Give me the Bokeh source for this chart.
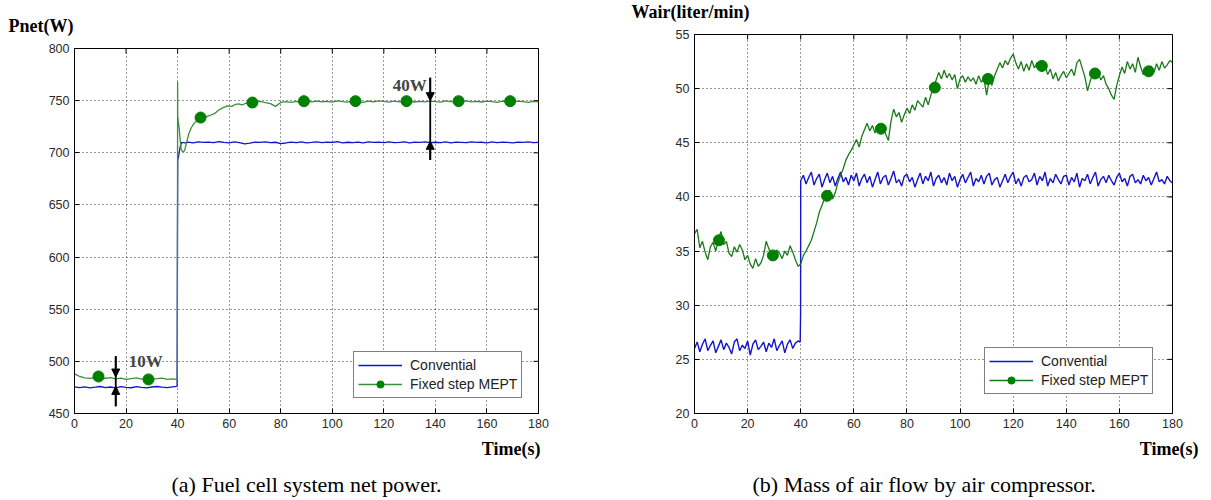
from bokeh.plotting import figure
from bokeh.layouts import row
from bokeh.models import (Range1d, FixedTicker, Label, Legend, Title,
                          LegendItem, Arrow, NormalHead)
from bokeh.embed import file_html
from bokeh.resources import INLINE

# ---------------- data: (a) net power ----------------
x_ticks = [0, 20, 40, 60, 80, 100, 120, 140, 160, 180]
pnet_ticks = [450, 500, 550, 600, 650, 700, 750, 800]
wair_ticks = [20, 25, 30, 35, 40, 45, 50, 55]

pnet_conv_t = list(range(0, 40, 2)) + [39.8, 39.9, 39.95, 40.05, 40.4, 41.0, 41.6, 43.0] + list(range(44, 181, 2))
pnet_conv = [475.5, 474.8, 475.6, 474.6, 475.2, 475.9, 474.9, 475.4, 474.5, 475.7,
             475.1, 474.7, 475.8, 475.0, 474.6, 475.4, 475.9, 475.2, 474.8, 475.6,
             476.0, 580, 625, 693, 697, 706, 710, 709.5,
             710.2, 709.6, 710.5, 709.9, 710.3, 709.7, 710.6, 710.0, 709.5, 710.4,
             709.8, 708.6, 709.2, 710.3, 709.9, 710.5, 709.7, 710.1, 708.8, 709.4,
             710.2, 709.8, 710.4, 709.6, 710.0, 710.5, 709.7, 710.2, 709.9, 710.6,
             709.5, 710.1, 709.8, 710.3, 709.6, 710.4, 709.9, 710.2, 709.7, 710.5,
             709.8, 710.0, 710.4, 709.6, 710.2, 709.9, 710.5, 709.7, 710.1, 709.8,
             710.4, 709.5, 710.2, 710.0, 709.7, 710.5, 709.9, 710.1, 709.6, 710.4,
             709.8, 710.2, 710.0, 709.5, 710.3, 709.9, 710.4, 709.7, 710.0]

pnet_mept_t = (list(range(0, 40, 2)) + [39.9] +
               [40.0, 40.05, 40.3, 40.6, 41.0, 41.4, 42.0, 42.7, 43.5, 44.3, 45.3, 46.3, 47.5,
                48.6, 50.0, 51.5, 52.8, 54.5, 56.0, 57.5, 59.2, 61.0, 62.5, 63.7, 65.0, 66.5, 68.0] +
               list(range(70, 181, 2)))
pnet_mept = [488.0, 485.5, 484.2, 483.6, 484.4, 483.1, 483.8, 484.5, 483.3, 483.9,
             482.8, 483.5, 484.1, 483.0, 483.7, 482.9, 483.4, 484.0, 482.7, 483.3, 482.5,
             768, 735, 729, 724, 712, 703, 701, 702, 710, 718, 724, 728, 731,
             733, 734, 735, 736, 738, 741, 743, 745, 744.5, 746.5, 747, 746, 747.5, 748,
             748.5, 749.2, 748.0, 747.2, 744.5, 748.3, 749.0, 748.4, 749.3, 748.7,
             749.5, 748.8, 749.6, 748.9, 749.4, 748.6, 749.8, 749.1, 748.5, 749.7,
             749.0, 748.4, 749.5, 748.9, 749.8, 749.2, 748.6, 749.6, 748.8, 749.4,
             749.9, 748.7, 749.3, 748.9, 749.6, 749.0, 748.5, 749.7, 749.1, 748.6,
             749.4, 749.8, 748.9, 749.3, 748.7, 749.6, 749.0, 748.4, 749.5, 749.1,
             748.8, 749.6, 749.0, 748.3, 749.4, 748.9]

pnet_mark_t = [9.3, 28.7, 48.9, 69, 89, 109, 128.8, 149, 169]
pnet_mark = [485.5, 482.7, 733.8, 748.2, 749.5, 749.5, 749.5, 749.5, 749.5]

# ---------------- data: (b) air flow ----------------
wair_conv_t = list(range(0, 40)) + [39.8, 39.95] + list(range(40, 181))
wair_conv = [26.0, 26.6, 25.7, 26.4, 26.9, 25.8, 26.3, 26.7, 25.6, 26.2,
             26.8, 25.9, 26.5, 26.1, 25.5, 26.6, 26.9, 25.8, 26.3, 26.0,
             26.7, 25.4, 26.4, 26.8, 25.9, 26.2, 26.6, 25.7, 26.5, 26.1,
             26.9, 25.8, 26.3, 26.7, 25.6, 26.4, 26.8, 26.0, 26.5, 26.7,
             26.6, 29.2,
             41.5, 42.0, 41.2, 41.8, 42.3, 41.1, 41.7, 42.1, 40.9, 41.6,
             42.2, 41.3, 41.9, 41.0, 41.7, 42.3, 41.4, 41.8, 41.1, 42.0,
             41.5, 42.2, 41.0, 41.7, 42.1, 41.3, 41.9, 40.9, 41.6, 42.3,
             41.2, 41.8, 42.0, 41.1, 41.7, 42.4, 41.3, 41.6, 41.0, 41.9,
             42.1, 41.4, 41.8, 40.9, 41.6, 42.2, 41.2, 41.9, 41.5, 42.3,
             41.0, 41.7, 42.0, 41.3, 41.8, 41.1, 42.2, 41.5, 41.9, 40.9,
             41.6, 42.1, 41.3, 41.8, 42.3, 41.0, 41.7, 41.4, 42.0, 41.2,
             41.9, 42.2, 41.1, 41.6, 41.8, 40.9, 41.5, 42.1, 41.3, 41.9,
             42.3, 41.2, 41.7, 41.0, 41.8, 42.0, 41.4, 41.6, 42.2, 41.1,
             41.9, 41.5, 42.3, 41.0, 41.7, 41.3, 42.1, 41.6, 41.2, 41.9,
             42.0, 41.1, 41.8, 41.4, 42.2, 40.9, 41.7, 41.5, 42.1, 41.2,
             41.8, 42.3, 41.0, 41.6, 41.9, 41.3, 42.0, 41.5, 41.1, 41.8,
             42.2, 41.4, 41.7, 41.0, 41.9, 42.1, 41.3, 41.6, 41.2, 42.0,
             41.5, 41.8, 41.1, 41.7, 42.3, 41.4, 41.6, 41.2, 41.9, 41.5,
             41.3]

wair_mept_t = list(range(0, 181))
wair_mept = [36.6, 37.0, 35.3, 35.9, 34.9, 34.2, 35.4, 35.8, 35.0, 36.1,
             36.8, 35.6, 35.9, 34.8, 34.5, 35.4, 34.9, 35.6, 35.1, 34.2,
             34.6, 33.8, 33.4, 34.3, 33.6, 33.9, 34.6, 35.9, 35.2, 34.7,
             34.4, 35.1, 34.8, 34.3, 35.0, 34.6, 35.5, 34.9, 34.2, 33.6,
             33.8, 34.6, 35.0, 35.5, 36.0, 36.8, 37.6, 38.6, 39.2, 39.9,
             40.3, 40.6, 39.8, 40.4, 41.3, 42.0, 42.6, 43.4, 43.9, 44.3,
             44.8, 45.3, 44.6, 45.6, 46.2, 46.8, 46.1, 46.6, 45.9, 46.4,
             46.2, 46.5, 45.8, 45.2, 47.0, 48.1, 47.4, 47.8, 46.9, 47.6,
             48.2, 47.7, 48.5, 48.0, 48.9, 48.6, 48.3, 49.2, 48.5, 49.4,
             50.1, 50.8, 51.5, 50.9, 51.7, 51.0, 51.4, 50.8, 51.3, 50.0,
             50.9, 51.2, 50.6, 51.1, 50.7, 51.0, 50.4, 51.2, 50.6, 50.9,
             49.4, 50.8, 50.3, 51.2, 51.8, 52.4, 51.9, 52.6, 52.2, 52.8,
             53.2, 52.4, 51.8, 52.5, 51.6, 52.3, 51.7, 52.6, 51.9, 52.4,
             52.0, 51.6, 52.1, 51.3, 51.8, 50.9, 51.5, 50.7, 51.2, 51.6,
             51.0, 51.4, 51.8, 51.2, 52.4, 52.7, 51.9, 51.1, 49.8, 50.7,
             51.4, 51.0, 51.5, 50.8, 51.2, 50.4, 50.0, 49.4, 49.0, 50.3,
             51.2, 52.0, 51.4, 52.5, 51.8, 52.3, 51.5, 52.9, 52.0, 51.3,
             51.6, 51.2, 52.1, 51.5, 52.3, 51.7, 52.5, 51.9, 52.2, 52.6,
             52.4]

wair_mark_t = [9.2, 29.5, 49.9, 70.2, 90.5, 110.5, 130.8, 150.8, 171]
wair_mark = [36.0, 34.6, 40.1, 46.3, 50.1, 50.9, 52.1, 51.4, 51.6]

assert len(pnet_conv_t) == len(pnet_conv)
assert len(pnet_mept_t) == len(pnet_mept)
assert len(wair_conv_t) == len(wair_conv)
assert len(wair_mept_t) == len(wair_mept)

BLUE = "#1414cc"
GREEN_L = "#3a8f3a"
GREEN_R = "#1a7a1a"
MARK = "#008000"
SANS = "Liberation Sans"
SERIF = "Liberation Serif"


def make_panel(width, height, yr, yticks, borders, ylab, ylab_off, ylab_standoff,
               xlab_off, xlab_standoff, caption, cap_align, cap_off, cap_standoff):
    left, right, top, bottom = borders
    p = figure(width=width, height=height, output_backend="svg", toolbar_location=None,
               x_range=Range1d(0, 180), y_range=Range1d(*yr))
    p.min_border_left, p.min_border_right, p.min_border_top, p.min_border_bottom = borders
    p.outline_line_color = "black"
    p.outline_line_width = 1
    p.background_fill_color = "white"
    p.border_fill_color = "white"
    p.xaxis.ticker = FixedTicker(ticks=x_ticks)
    p.yaxis.ticker = FixedTicker(ticks=yticks)
    for ax in p.axis:
        ax.major_tick_in = 5
        ax.major_tick_out = 0
        ax.minor_tick_in = 0
        ax.minor_tick_out = 0
        ax.axis_line_color = "black"
        ax.major_tick_line_color = "black"
        ax.major_label_text_font = SANS
        ax.major_label_text_font_size = "12.5px"
        ax.major_label_text_color = "#2a2a2a"
        ax.major_label_standoff = 5
    for g in (p.xgrid[0], p.ygrid[0]):
        g.grid_line_color = "#333333"
        g.grid_line_dash = "1 3"
        g.grid_line_width = 1
    p.xgrid[0].ticker = FixedTicker(ticks=x_ticks)
    p.ygrid[0].ticker = FixedTicker(ticks=yticks)

    # inward tick marks on the top and right edges of the box (5 px long)
    fw = width - left - right
    fh = height - top - bottom
    dx = 5 * 180 / fw
    dy = 5 * (yr[1] - yr[0]) / fh
    p.segment(x0=x_ticks, y0=[yr[1]] * len(x_ticks), x1=x_ticks, y1=[yr[1] - dy] * len(x_ticks),
              line_color="black", line_width=1)
    p.segment(x0=[180] * len(yticks), y0=yticks, x1=[180 - dx] * len(yticks), y1=yticks,
              line_color="black", line_width=1)

    # y label as title at top-left
    p.title.text = ylab
    p.title.align = "left"
    p.title.offset = ylab_off
    p.title.text_font = SERIF
    p.title.text_font_style = "bold"
    p.title.text_font_size = "18px"
    p.title.text_line_height = 1.0
    p.title.text_color = "black"
    p.title.standoff = ylab_standoff

    t_x = Title(text="Time(s)", align="right", offset=xlab_off, text_font=SERIF,
                text_font_style="bold", text_font_size="18px", standoff=xlab_standoff,
                text_line_height=1.0, text_color="black")
    p.add_layout(t_x, "below")
    t_c = Title(text=caption, align=cap_align, offset=cap_off, text_font=SERIF,
                text_font_style="normal", text_font_size="22px", standoff=cap_standoff,
                text_line_height=1.0, text_color="black")
    p.add_layout(t_c, "below")
    return p


def add_legend(p, r_conv, r_line, r_mark, loc):
    leg = Legend(items=[LegendItem(label="Convential", renderers=[r_conv]),
                        LegendItem(label="Fixed step MEPT", renderers=[r_line, r_mark])],
                 location=loc)
    leg.label_text_font = SANS
    leg.label_text_font_size = "14px"
    leg.label_text_color = "#222222"
    leg.glyph_width = 44
    leg.glyph_height = 18
    leg.label_height = 18
    leg.label_standoff = 8
    leg.spacing = 1
    leg.padding = 4
    leg.margin = 0
    leg.border_line_color = "black"
    leg.border_line_width = 1
    leg.background_fill_alpha = 1
    p.add_layout(leg)


def arrows(p, x, top, tip_down, tip_up, bottom):
    p.segment(x0=[x], y0=[top], x1=[x], y1=[bottom], line_color="black", line_width=1.8)
    for y0, y1 in ((top, tip_down), (bottom, tip_up)):
        p.add_layout(Arrow(end=NormalHead(size=8, fill_color="black", line_color="black"),
                           x_start=x, y_start=y0, x_end=x, y_end=y1,
                           line_color="black", line_width=1.8))


# ---------------- panel (a) ----------------
p1 = make_panel(600, 500, (450, 800), pnet_ticks, (74, 62, 48, 87), "Pnet(W)", -66, 26,
                -2, 13, "(a) Fuel cell system net power.", "center", 0, 8)
r1c = p1.line(pnet_conv_t, pnet_conv, line_color=BLUE, line_width=1.3)
r1m = p1.line(pnet_mept_t, pnet_mept, line_color=GREEN_L, line_width=1.3)
r1s = p1.scatter(pnet_mark_t, pnet_mark, size=11, fill_color=MARK, line_color=MARK)
add_legend(p1, r1c, r1m, r1s, (279, 15))
arrows(p1, 16, 505, 485, 476, 457)
arrows(p1, 138, 772, 750, 711, 693)
p1.add_layout(Label(x=21, y=500, text="10W", text_font=SERIF, text_font_style="bold",
                    text_font_size="17px", text_baseline="middle", text_align="left"))
p1.add_layout(Label(x=123.5, y=765, text="40W", text_font=SERIF, text_font_style="bold",
                    text_font_size="17px", text_baseline="middle", text_align="left"))

# ---------------- panel (b) ----------------
# same border sizes as panel (a); the whole figure is lifted by 14 px so that its
# box starts higher on the page than the left one, as in the reference
p2 = make_panel(611, 514, (20, 55), wair_ticks, (94, 39, 48, 87), "Wair(liter/min)", -63, 26,
                -26, 13, "(b) Mass of air flow by air compressor.", "left", 58, 8)
p2.styles = {"margin-top": "-14px"}
r2c = p2.line(wair_conv_t, wair_conv, line_color=BLUE, line_width=1.4)
r2m = p2.line(wair_mept_t, wair_mept, line_color=GREEN_R, line_width=1.3)
r2s = p2.scatter(wair_mark_t, wair_mark, size=11, fill_color=MARK, line_color=MARK)
add_legend(p2, r2c, r2m, r2s, (290, 19))

layout = row(p1, p2)
open("out.html", "w").write(file_html(layout, INLINE))
